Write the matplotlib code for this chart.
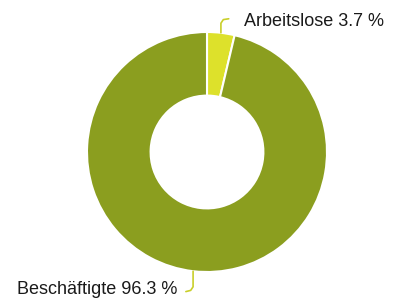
import matplotlib
matplotlib.use("Agg")
import matplotlib.pyplot as plt
import numpy as np

labels = ["Arbeitslose", "Beschäftigte"]
shares = [3.7, 96.3]
colors = ["#dde12b", "#8b9e1f"]

plt.rcParams['font.family'] = ['Liberation Sans', 'DejaVu Sans']

fig = plt.figure(figsize=(3.93, 3.02), dpi=100)
# donut centre ~ (207,152) px, radius 120 px
ax = fig.add_axes([87 / 393, 30 / 302, 240 / 393, 240 / 302])
wedges, _ = ax.pie(shares, colors=colors, startangle=90, counterclock=False,
                   radius=1.0, wedgeprops=dict(width=0.53, edgecolor="white", linewidth=1.5))
ax.set_xlim(-1, 1)
ax.set_ylim(-1, 1)
ax.set_aspect("equal")
ax.axis("off")

line_col = "#c9cf2a"
# leader for the small slice (top)
w = wedges[0]
mid = np.deg2rad((w.theta1 + w.theta2) / 2)
x0, y0 = np.cos(mid), np.sin(mid)
ax.plot([x0, x0, x0 + 0.02, x0 + 0.065], [y0, y0 + 0.08, y0 + 0.11, y0 + 0.117],
        color=line_col, lw=1.2, clip_on=False, solid_capstyle="round")
ax.text(0.31, 1.09, f"{labels[0]} {shares[0]} %", ha="left", va="center", fontsize=13, color="#1a1a1a")

# leader for the big slice (bottom)
w = wedges[1]
mid = np.deg2rad((w.theta1 + w.theta2) / 2)
x1, y1 = np.cos(mid), np.sin(mid)
ax.plot([x1, x1, x1 - 0.02, x1 - 0.06], [y1, y1 - 0.13, y1 - 0.16, y1 - 0.17],
        color=line_col, lw=1.2, clip_on=False, solid_capstyle="round")
ax.text(-0.25, -1.15, f"{labels[1]} {shares[1]} %", ha="right", va="center", fontsize=13, color="#1a1a1a")

fig.savefig("out.png", dpi=100)
